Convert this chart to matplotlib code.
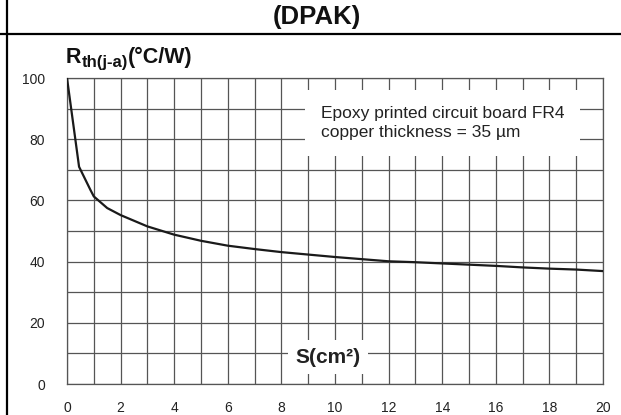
import numpy as np
import matplotlib
matplotlib.use("Agg")
import matplotlib.pyplot as plt
from matplotlib.lines import Line2D

plt.rcParams['font.family'] = ['Liberation Sans', 'DejaVu Sans']

# thermal resistance junction-ambient vs copper area (DPAK)
s_area = [0, 0.45, 0.87, 1, 1.5, 2, 3, 4, 5, 6, 7, 8, 9, 10,
          11, 12, 13, 14, 15, 16, 17, 18, 19, 20]
rth = [100, 71, 63.5, 61.3, 57.5, 55.2, 51.5, 48.8, 46.8, 45.2, 44.1, 43.1, 42.3, 41.5,
       40.8, 40.1, 39.8, 39.4, 39.0, 38.6, 38.1, 37.7, 37.4, 36.9]

xticks = list(range(0, 21, 2))
yticks = list(range(0, 101, 20))
note = "Epoxy printed circuit board FR4\ncopper thickness = 35 \u00b5m"

W, H = 621, 415
fig = plt.figure(figsize=(W / 100, H / 100), dpi=100)
ax = fig.add_axes([67 / W, 1 - 384 / H, (603 - 67) / W, (384 - 78) / H])

gridc = '#555555'
ax.set_xlim(0, 20)
ax.set_ylim(0, 100)
ax.set_xticks(np.arange(0, 21, 1), minor=True)
ax.set_yticks(np.arange(0, 101, 10), minor=True)
ax.set_xticks(xticks)
ax.set_yticks(yticks)
ax.grid(True, which='both', color=gridc, linewidth=0.9)
ax.tick_params(which='both', length=0, labelsize=10, colors='#222222')
ax.tick_params(axis='y', pad=16)
ax.tick_params(axis='x', pad=12.5)
for sp in ax.spines.values():
    sp.set_color(gridc)
    sp.set_linewidth(0.9)

ax.plot(s_area, rth, color='#1a1a1a', linewidth=1.6, zorder=3)

ax.text(9.48, 85.3, note, ha='left', va='center', fontsize=12.5, linespacing=1.35,
        color='#222222', zorder=4,
        bbox=dict(boxstyle='square,pad=0.9', fc='white', ec='none'))
ax.text(9.75, 8.8, "S(cm\u00b2)", ha='center', va='center', fontsize=15,
        fontweight='bold', color='#222222', zorder=4,
        bbox=dict(boxstyle='square,pad=0.35', fc='white', ec='none'))

# frame lines of the datasheet cell
fig.add_artist(Line2D([7 / W, 7 / W], [0, 1], color='black', linewidth=1.6))
fig.add_artist(Line2D([0, 1], [1 - 34 / H, 1 - 34 / H], color='black', linewidth=1.6))
fig.text(0.51, 1 - 17 / H, "(DPAK)", ha='center', va='center', fontsize=18.5,
         fontweight='bold', color='#111111')

# y axis title: R + subscript th(j-a) + unit
r = fig.canvas.get_renderer()
base = 1 - 63 / H
t1 = fig.text(66 / W, base, "R", fontsize=15.5, fontweight='bold', color='#111111')
x1 = t1.get_window_extent(r).x1
t2 = fig.text(x1 / W, base - 4 / H, "th(j-a)", fontsize=12, fontweight='bold', color='#111111')
x2 = t2.get_window_extent(r).x1
fig.text(x2 / W, base, "(\u00b0C/W)", fontsize=15.5, fontweight='bold', color='#111111')

fig.savefig("out.png", dpi=100)
